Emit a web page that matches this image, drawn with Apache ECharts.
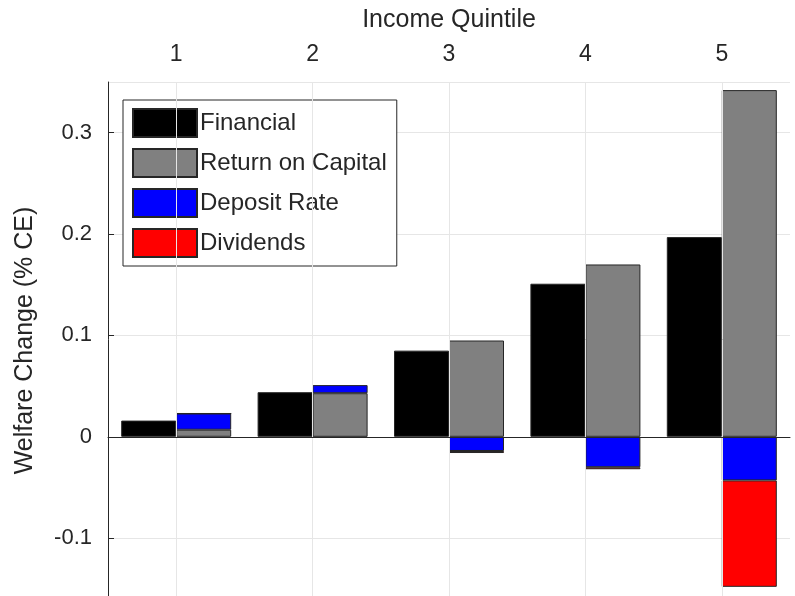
<!DOCTYPE html>
<html>
<head>
<meta charset="utf-8">
<script src="https://cdn.jsdelivr.net/npm/echarts@6/dist/echarts.min.js"></script>
<style>html,body{margin:0;padding:0;background:#fff}#chart{width:795px;height:596px}</style>
</head>
<body>
<div id="chart"></div>
<script>
const quintiles = ['1', '2', '3', '4', '5'];
const financial = [0.016, 0.044, 0.085, 0.151, 0.197];
const returnOnCapital = [0.007, 0.043, 0.095, 0.170, 0.342];
const depositRate = [0.016, 0.008, -0.014, -0.030, -0.043];
const dividends = [0, -0.001, -0.002, -0.002, -0.105];

const chart = echarts.init(document.getElementById('chart'));
const font = 'Liberation Sans, Arial, sans-serif';
const border = { borderColor: '#262626', borderWidth: 1 };

chart.setOption({
    animation: false,
    textStyle: { fontFamily: font },
    grid: { left: 108, right: 5, top: 82, bottom: -3, containLabel: false, outerBoundsMode: 'none' },
    legend: {
        left: 123, top: 100, orient: 'vertical', icon: 'rect',
        itemWidth: 64, itemHeight: 28, itemGap: 10,
        padding: [8, 10, 8, 9],
        borderColor: '#262626', borderWidth: 1, backgroundColor: '#fff',
        textStyle: { fontSize: 24, color: '#262626', padding: [0, 0, 0, -2] },
        data: ['Financial', 'Return on Capital', 'Deposit Rate', 'Dividends']
    },
    xAxis: {
        type: 'category', data: quintiles, position: 'top',
        name: 'Income Quintile', nameLocation: 'middle', nameGap: 49,
        nameTextStyle: { fontSize: 25, color: '#262626' },
        axisLine: { lineStyle: { color: '#262626' } },
        axisTick: { alignWithLabel: true, inside: true, length: 6, lineStyle: { color: '#262626' } },
        axisLabel: { fontSize: 23, color: '#262626', margin: 16 },
        splitLine: { show: false }
    },
    yAxis: {
        type: 'value', min: -0.16, max: 0.35, splitNumber: 5,
        name: 'Welfare Change (% CE)', nameLocation: 'middle', nameGap: 70,
        nameTextStyle: { fontSize: 25, color: '#262626' },
        axisLine: { show: true, lineStyle: { color: '#262626' } },
        axisTick: { show: true, inside: true, length: 6, lineStyle: { color: '#262626' } },
        axisLabel: { fontSize: 22, color: '#262626', margin: 16, showMinLabel: false, showMaxLabel: false },
        splitLine: { lineStyle: { color: '#e6e6e6' } }
    },
    series: [
        {
            name: 'grid', type: 'line', data: [], silent: true, z: 0,
            markLine: {
                silent: true, symbol: 'none', label: { show: false },
                lineStyle: { color: '#e6e6e6', type: 'solid', width: 1 },
                data: quintiles.map(q => ({ xAxis: q }))
            }
        },
        {
            name: 'Financial', type: 'bar', data: financial, barWidth: 55, barGap: '0%',
            itemStyle: Object.assign({ color: '#000' }, border),
            markLine: {
                silent: true, symbol: 'none', label: { show: false },
                lineStyle: { color: '#262626', type: 'solid', width: 1 },
                data: [{ yAxis: 0 }]
            },
            z: 3
        },
        { name: 'Return on Capital', type: 'bar', stack: 'd', data: returnOnCapital, barWidth: 55, itemStyle: Object.assign({ color: '#808080' }, border) },
        { name: 'Deposit Rate', type: 'bar', stack: 'd', data: depositRate, barWidth: 55, itemStyle: Object.assign({ color: '#0000ff' }, border) },
        { name: 'Dividends', type: 'bar', stack: 'd', data: dividends, barWidth: 55, itemStyle: Object.assign({ color: '#ff0000' }, border) }
    ]
});
</script>
</body>
</html>
